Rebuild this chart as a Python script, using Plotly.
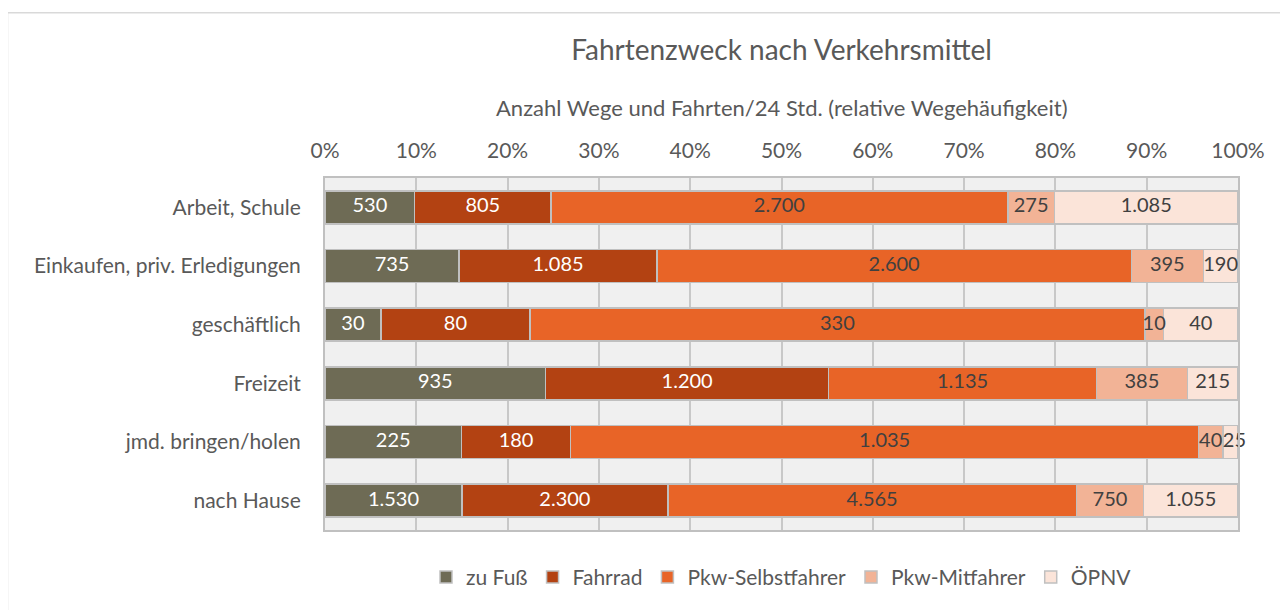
import plotly.graph_objects as go

categories = ["Arbeit, Schule", "Einkaufen, priv. Erledigungen", "geschäftlich",
              "Freizeit", "jmd. bringen/holen", "nach Hause"]
series_names = ["zu Fuß", "Fahrrad", "Pkw-Selbstfahrer", "Pkw-Mitfahrer", "ÖPNV"]
zu_fuss = [530, 735, 30, 935, 225, 1530]
fahrrad = [805, 1085, 80, 1200, 180, 2300]
pkw_selbst = [2700, 2600, 330, 1135, 1035, 4565]
pkw_mit = [275, 395, 10, 385, 40, 750]
oepnv = [1085, 190, 40, 215, 25, 1055]
series_values = [zu_fuss, fahrrad, pkw_selbst, pkw_mit, oepnv]
tick_vals = [0, 10, 20, 30, 40, 50, 60, 70, 80, 90, 100]
tick_text = ["0%", "10%", "20%", "30%", "40%", "50%", "60%", "70%", "80%", "90%", "100%"]

colors = ["#6e6b55", "#b34212", "#e86427", "#f2b396", "#fbe4d9"]
text_colors = ["#ffffff", "#ffffff", "#404040", "#404040", "#404040"]

FONT = "Lato"
GREY = "#595959"

# page offset of 8px (default body margin)
OFF = 8
W, H = 1288 - OFF, 610 - OFF
L, R, T, B = 325 - OFF, 1288 - 1238, 178 - OFF, 610 - 535
PW, PH = 1238 - 325, 535 - 178

totals = [sum(v[i] for v in series_values) for i in range(len(categories))]
THIN = 0.02  # segments thinner than this share get their label starting at the segment edge


def fmt(v):
    return f"{v:,}".replace(",", ".")


fig = go.Figure()
for name, vals, c in zip(series_names, series_values, colors):
    fig.add_trace(go.Bar(
        name=name, y=categories, x=vals, orientation="h",
        marker=dict(color=c, line=dict(color="#c0c0c0", width=1.5)),
        hoverinfo="skip",
    ))

# data labels, placed from the stacked shares
cum = [0.0] * len(categories)
for name, vals, tc in zip(series_names, series_values, text_colors):
    xs, pos = [], []
    for i, (v, t) in enumerate(zip(vals, totals)):
        start = cum[i] / t * 100
        share = v / t * 100
        if v / t < THIN:
            xs.append(start)
            pos.append("middle right")
        else:
            xs.append(start + share / 2)
            pos.append("middle center")
        cum[i] += v
    fig.add_trace(go.Scatter(
        x=xs, y=categories, text=[fmt(v) for v in vals],
        mode="text", textposition=pos,
        textfont=dict(color=tc, size=20, family=FONT),
        cliponaxis=False, showlegend=False, hoverinfo="skip",
    ))

fig.update_layout(
    barmode="stack", barnorm="percent", bargap=0.44,
    width=W, height=H,
    margin=dict(l=L, r=R, t=T, b=B),
    paper_bgcolor="white", plot_bgcolor="#f0f0f0",
    font=dict(family=FONT, color=GREY, size=21),
    title=dict(text="Fahrtenzweck nach Verkehrsmittel", x=0.5, xref="paper",
               xanchor="center", y=1 - (50 - OFF) / H, yanchor="middle",
               font=dict(size=28, color=GREY, family=FONT)),
    legend=dict(orientation="h", x=0.5, xanchor="center", y=-(583 - 535) / PH,
                yanchor="middle", font=dict(size=21, color=GREY), traceorder="normal"),
    xaxis=dict(side="top", range=[0, 100], tickvals=tick_vals, ticktext=tick_text,
               showgrid=True, gridcolor="#c8c8c8", gridwidth=1.5,
               showline=True, linecolor="#c0c0c0", linewidth=2, mirror=True,
               ticks="outside", ticklen=10, tickcolor="rgba(0,0,0,0)",
               tickfont=dict(size=21, color=GREY), zeroline=False, fixedrange=True),
    yaxis=dict(autorange="reversed", showgrid=False,
               showline=True, linecolor="#c0c0c0", linewidth=2, mirror=True,
               ticks="outside", ticklen=18, tickcolor="rgba(0,0,0,0)",
               tickfont=dict(size=21, color=GREY), fixedrange=True),
    annotations=[dict(text="Anzahl Wege und Fahrten/24 Std. (relative Wegehäufigkeit)",
                      xref="paper", yref="paper", x=0.5, xanchor="center",
                      y=1 + (178 - 107) / PH, yanchor="middle", showarrow=False,
                      font=dict(size=22, color=GREY))],
    shapes=[dict(type="rect", xref="paper", yref="paper",
                 x0=(7.5 - 325) / PW, x1=(1300 - 325) / PW,
                 y0=(535 - 620) / PH, y1=1 + (178 - 10.5) / PH,
                 line=dict(color="#d9d9d9", width=1.5), fillcolor="rgba(0,0,0,0)",
                 layer="below")],
)

fig.write_html("out.html")
